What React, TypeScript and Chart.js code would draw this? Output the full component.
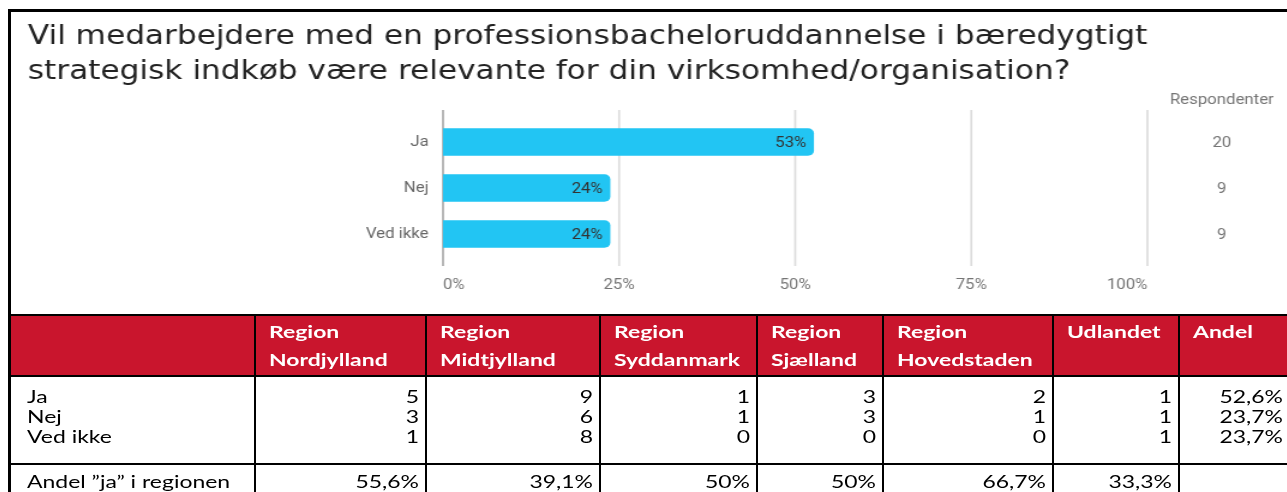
import React, { useEffect, useRef } from 'react';
import { Chart, registerables } from 'chart.js';

Chart.register(...registerables);

// ---------- data ----------
const titleLines = [
  'Vil medarbejdere med en professionsbacheloruddannelse i bæredygtigt',
  'strategisk indkøb være relevante for din virksomhed/organisation?',
];
const answers = ['Ja', 'Nej', 'Ved ikke'];
const sharePct = [52.6, 23.7, 23.7];
const respondents = [20, 9, 9];
const respondentHeader = 'Respondenter';
const xTickStep = 25;

const tableHeaders = [
  '',
  'Region\nNordjylland',
  'Region\nMidtjylland',
  'Region\nSyddanmark',
  'Region\nSjælland',
  'Region\nHovedstaden',
  'Udlandet',
  'Andel',
];
const jaCounts = [5, 9, 1, 3, 2, 1];
const nejCounts = [3, 6, 1, 3, 1, 1];
const vedIkkeCounts = [1, 8, 0, 0, 0, 1];
const andelTotal = ['52,6%', '23,7%', '23,7%'];
const andelJaLabel = 'Andel \u201dja\u201d i regionen';
const andelJaRegion = ['55,6%', '39,1%', '50%', '50%', '66,7%', '33,3%'];

// ---------- layout / style constants ----------
const BAR = '#22C5F3';
const RED = '#C9152D';
const GRID = '#dcdcdc';
const ZERO = '#aaaaaa';
const S1 = 1.2; // horizontal stretch of the chart picture
const S2 = 1.35; // horizontal stretch of the table text
const CANVAS_W = 1063;
const CANVAS_H = 302;
const colEdges = [11, 255, 426, 600, 757, 883, 1053, 1179, 1300];
const bodyRowCenters = [397, 417, 437];
const andelRowCenter = 482;

export default function App() {
  const ref = useRef<HTMLCanvasElement | null>(null);

  useEffect(() => {
    if (!ref.current) return;
    const gridPlugin = {
      id: 'gridPlugin',
      beforeDatasetsDraw(chart: any) {
        const ctx = chart.ctx;
        const area = chart.chartArea;
        const xs = chart.scales.x;
        ctx.save();
        ctx.lineWidth = 1.7;
        xs.ticks.forEach((t: any) => {
          const px = xs.getPixelForValue(t.value);
          ctx.strokeStyle = t.value === 0 ? ZERO : GRID;
          ctx.beginPath();
          ctx.moveTo(px, area.top - 9);
          ctx.lineTo(px, area.bottom + 9);
          ctx.stroke();
        });
        ctx.restore();
      },
    };
    const labelsPlugin = {
      id: 'labelsPlugin',
      afterDatasetsDraw(chart: any) {
        const ctx = chart.ctx;
        const meta = chart.getDatasetMeta(0);
        const area = chart.chartArea;
        const rx = 1009;
        ctx.save();
        ctx.font = '14px Roboto';
        ctx.textBaseline = 'middle';
        meta.data.forEach((el: any, i: number) => {
          ctx.fillStyle = '#333333';
          ctx.textAlign = 'right';
          ctx.fillText(Math.round(sharePct[i]) + '%', el.x - 6, el.y + 1);
          ctx.fillStyle = '#757575';
          ctx.textAlign = 'center';
          ctx.fillText(String(respondents[i]), rx, el.y + 1);
        });
        ctx.font = '14px Roboto';
        ctx.fillStyle = '#757575';
        ctx.textAlign = 'center';
        ctx.fillText(respondentHeader, rx, area.top - 19);
        ctx.restore();
      },
    };

    const chart = new Chart(ref.current, {
      type: 'bar',
      data: {
        labels: answers,
        datasets: [
          {
            data: sharePct,
            backgroundColor: BAR,
            borderRadius: 5,
            borderSkipped: 'start',
            barThickness: 27,
          },
        ],
      },
      options: {
        indexAxis: 'y',
        responsive: false,
        animation: false,
        layout: { padding: { left: 14, right: 116, top: 0, bottom: 20 } },
        plugins: {
          legend: { display: false },
          tooltip: { enabled: false },
          title: {
            display: true,
            text: titleLines,
            align: 'start',
            color: '#222222',
            font: { family: 'DejaVu Sans', size: 26, weight: 'normal', lineHeight: 35 / 26 },
            padding: { top: 7.5, bottom: 29.5 },
          },
        },
        scales: {
          x: {
            type: 'linear',
            min: 0,
            max: 100,
            ticks: {
              stepSize: xTickStep,
              callback: (v: any) => v + '%',
              align: 'inner',
              padding: 20,
              color: '#757575',
              font: { family: 'Roboto', size: 14 },
            },
            grid: { display: false, drawTicks: false },
            border: { display: false },
            afterFit: (s: any) => {
              s.height = 37;
            },
          },
          y: {
            ticks: {
              padding: 12,
              color: '#666666',
              font: { family: 'Roboto', size: 14 },
            },
            grid: { display: false, drawTicks: false },
            border: { display: false },
            afterFit: (s: any) => {
              s.width = 346;
            },
          },
        },
      },
      plugins: [gridPlugin, labelsPlugin],
    } as any);
    return () => chart.destroy();
  }, []);

  const bodyRows = [
    { label: answers[0], counts: jaCounts, share: andelTotal[0] },
    { label: answers[1], counts: nejCounts, share: andelTotal[1] },
    { label: answers[2], counts: vedIkkeCounts, share: andelTotal[2] },
  ];

  const black = (left: number, top: number, width: number, height: number, key: string) => (
    <div key={key} style={{ position: 'absolute', left, top, width, height, background: '#000' }} />
  );

  const textFont = { fontFamily: 'Lato, "Noto Sans", sans-serif', fontSize: 17, color: '#000' };

  const cellRight = (col: number, center: number, text: string, key: string) => {
    const x0 = colEdges[col];
    const x1 = col === 7 ? 1283 : colEdges[col + 1] - 7;
    return (
      <div
        key={key}
        style={{
          position: 'absolute',
          left: x0 / S2,
          width: (x1 - x0) / S2,
          top: center - 10,
          height: 20,
          lineHeight: '20px',
          textAlign: 'right',
          whiteSpace: 'nowrap',
          ...textFont,
        }}
      >
        {text}
      </div>
    );
  };

  const lines: any[] = [];
  lines.push(black(8, 9, 1279, 3, 'top'));
  lines.push(black(8, 9, 3, 483, 'left'));
  lines.push(<div key="red" style={{ position: 'absolute', left: 11, top: 316, width: 1276, height: 59, background: RED }} />);
  lines.push(black(8, 314, 1279, 2, 'hTop'));
  lines.push(black(8, 375, 1279, 2, 'hBot'));
  lines.push(black(8, 463, 1279, 2, 'hAndel'));
  for (let i = 1; i <= 7; i++) lines.push(black(colEdges[i] - 1, 314, 2, 178, 'v' + i));

  const texts: any[] = [];
  tableHeaders.forEach((h, i) => {
    if (!h) return;
    texts.push(
      <div
        key={'h' + i}
        style={{
          position: 'absolute',
          left: (colEdges[i] + 14) / S2,
          top: 318,
          lineHeight: '28px',
          whiteSpace: 'pre',
          fontFamily: 'Lato, "Noto Sans", sans-serif',
          fontWeight: 700,
          fontSize: 17,
          color: '#fff',
        }}
      >
        {h}
      </div>
    );
  });
  bodyRows.forEach((r, ri) => {
    const c = bodyRowCenters[ri];
    texts.push(
      <div
        key={'l' + ri}
        style={{ position: 'absolute', left: 27 / S2, top: c - 10, lineHeight: '20px', whiteSpace: 'nowrap', ...textFont }}
      >
        {r.label}
      </div>
    );
    r.counts.forEach((v, ci) => texts.push(cellRight(ci + 1, c, String(v), 'c' + ri + '_' + ci)));
    texts.push(cellRight(7, c, r.share, 's' + ri));
  });
  texts.push(
    <div
      key="andelLabel"
      style={{ position: 'absolute', left: 27 / S2, top: andelRowCenter - 10, lineHeight: '20px', whiteSpace: 'nowrap', ...textFont }}
    >
      {andelJaLabel}
    </div>
  );
  andelJaRegion.forEach((v, ci) => texts.push(cellRight(ci + 1, andelRowCenter, v, 'a' + ci)));

  return (
    <div style={{ position: 'absolute', left: 0, top: 0, width: 1287, height: 492, overflow: 'hidden', background: '#fff' }}>
      <canvas
        ref={ref}
        width={CANVAS_W}
        height={CANVAS_H}
        style={{
          position: 'absolute',
          left: 11,
          top: 12,
          width: CANVAS_W,
          height: CANVAS_H,
          transform: `scaleX(${S1})`,
          transformOrigin: '0 0',
        }}
      />
      {lines}
      <div
        style={{
          position: 'absolute',
          left: 0,
          top: 0,
          width: 1287 / S2,
          height: 492,
          transform: `scaleX(${S2})`,
          transformOrigin: '0 0',
        }}
      >
        {texts}
      </div>
    </div>
  );
}
